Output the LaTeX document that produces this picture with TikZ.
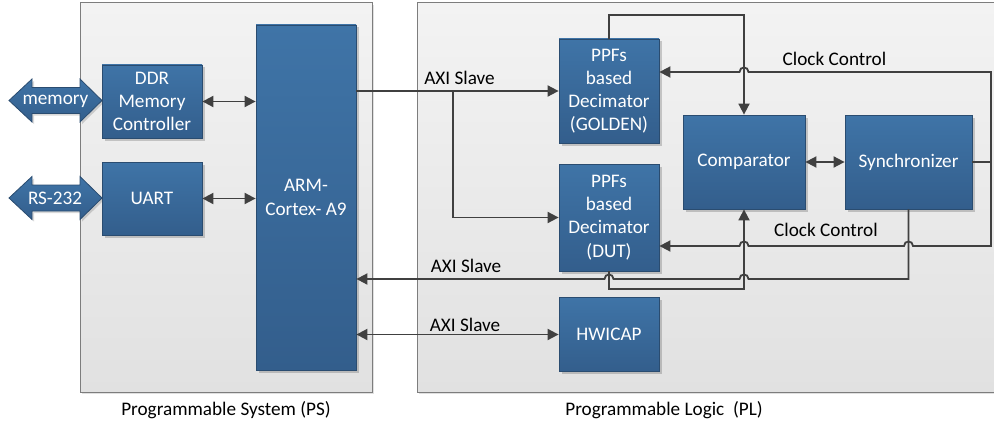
\documentclass[tikz,border=0pt]{standalone}
\usepackage{fontspec}
\setmainfont{Carlito}
\usetikzlibrary{arrows.meta,shadows}

\definecolor{boxtop}{RGB}{63,116,167}
\definecolor{boxbot}{RGB}{51,94,140}
\definecolor{boxline}{RGB}{42,76,112}
\definecolor{wire}{RGB}{64,64,64}
\definecolor{paneltop}{RGB}{243,243,243}
\definecolor{panelbot}{RGB}{225,225,225}
\definecolor{panelline}{RGB}{125,125,125}

\begin{document}
\begin{tikzpicture}[x=1pt,y=-1pt,
  txt/.style={font=\fontsize{19.2}{23.2}\selectfont},
  lbl/.style={txt,anchor=base,inner sep=0pt,text=black},
  panel/.style={draw=panelline,line width=1pt,top color=paneltop,bottom color=panelbot,
    inner sep=0pt,drop shadow={shadow xshift=2pt,shadow yshift=-2pt,fill=black,opacity=.12}},
  block/.style={txt,draw=boxline,line width=0.8pt,top color=boxtop,bottom color=boxbot,
    text=white,align=center,inner sep=0pt,
    drop shadow={shadow xshift=2.5pt,shadow yshift=-2.5pt,fill=black,opacity=.18}},
  busshape/.style={draw=boxline,line width=0.8pt,top color=boxtop,bottom color=boxbot,
    drop shadow={shadow xshift=2pt,shadow yshift=-2pt,fill=black,opacity=.15}},
  arr/.style={draw=wire,line width=1.8pt,-{Triangle[length=11pt,width=11pt]}},
  biarr/.style={draw=wire,line width=1.8pt,{Triangle[length=11pt,width=11pt]}-{Triangle[length=11pt,width=11pt]}},
  wireln/.style={draw=wire,line width=1.8pt},
  % small semicircular hop over a crossing vertical wire
  hopR/.style 2 args={insert path={-- ({#1-4.5},#2) .. controls ({#1-4.5},{#2-6}) and ({#1+4.5},{#2-6}) .. ({#1+4.5},#2)}},
  hopL/.style 2 args={insert path={-- ({#1+4.5},#2) .. controls ({#1+4.5},{#2-6}) and ({#1-4.5},{#2-6}) .. ({#1-4.5},#2)}}
]
\useasboundingbox (0,0) rectangle (994,428);

% the two regions of the device
\node[panel,minimum width=292pt,minimum height=389pt] (ps) at (226,197.5) {};
\node[panel,minimum width=577pt,minimum height=389pt] (pl) at (705.5,197.5) {};
\node[lbl] (pslabel) at (226,415.5) {Programmable System (PS)};
\node[lbl] (pllabel) at (664,415.5) {Programmable Logic\ \ (PL)};

% external buses
\path[busshape] (9,100.5) -- (32,79) -- (32,87.5) -- (80,87.5) -- (80,79) -- (102,100.5)
  -- (80,122) -- (80,113.5) -- (32,113.5) -- (32,122) -- cycle;
\node[lbl,text=white] (mem) at (55.5,105) {memory};
\path[busshape] (9,198) -- (32,176.5) -- (32,185) -- (80,185) -- (80,176.5) -- (102,198)
  -- (80,219.5) -- (80,211) -- (32,211) -- (32,219.5) -- cycle;
\node[lbl,text=white] (rs) at (55,204) {RS-232};

% processing system blocks
\node[block,minimum width=100pt,minimum height=73pt] (ddr) at (152,101.5) {DDR\\Memory\\Controller};
\node[block,minimum width=100pt,minimum height=73pt] (uart) at (152,198.5) {UART};
\node[block,minimum width=100pt,minimum height=345pt] (arm) at (306,197.5) {ARM-\\Cortex- A9};

% programmable logic blocks
\node[block,minimum width=100pt,minimum height=104pt] (golden) at (609,91) {PPFs\\based\\Decimator\\(GOLDEN)};
\node[block,minimum width=100pt,minimum height=107pt] (dut) at (609,217.5) {PPFs\\based\\Decimator\\(DUT)};
\node[block,minimum width=100pt,minimum height=74pt] (hwicap) at (609,334.5) {HWICAP};
\node[block,minimum width=122pt,minimum height=94pt] (comp) at (744,162) {Comparator};
\node[block,minimum width=127pt,minimum height=94pt] (sync) at (908.5,162) {Synchronizer};

% PS internal links
\draw[biarr] (ddr.east) -- (ddr.east -| arm.west);
\draw[biarr] (uart.east) -- (uart.east -| arm.west);

% AXI slave to both decimators
\coordinate (split) at (453,91);
\draw[arr] (golden.west -| arm.east) -- (golden.west);
\draw[arr] (split) |- (dut.west);
\node[lbl] (axi1) at (459.5,84.5) {AXI Slave};

% decimator outputs into the comparator
\draw[arr] (golden.north) |- (comp.north |- 0,15) -- (comp.north);
\draw[arr] (dut.south) |- (comp.south |- 0,289) -- (comp.south);

% comparator <-> synchronizer
\draw[biarr] (comp.east) -- (sync.west);

% clock control from the synchronizer to both decimators
\coordinate (ccr) at (991,162);
\draw[wireln] (sync.east) -- (ccr);
\draw[biarr] (golden.east |- 0,72) [hopR={744}{72}] -- (991,72) -- (991,246)
  [hopL={908.5}{246}] [hopL={744}{246}] -- (dut.east |- 0,246);
\node[lbl] (cc1) at (834.5,65.5) {Clock Control};
\node[lbl] (cc2) at (826,236.5) {Clock Control};

% synchronizer status back to the processor
\draw[arr] (sync.south) -- (sync.south |- 0,279) [hopL={744}{279}] [hopL={609}{279}]
  -- (arm.east |- 0,279);
\node[lbl] (axi2) at (466,272.5) {AXI Slave};

% HWICAP link
\draw[biarr] (hwicap.west -| arm.east) -- (hwicap.west);
\node[lbl] (axi3) at (465,331) {AXI Slave};
\end{tikzpicture}
\end{document}
